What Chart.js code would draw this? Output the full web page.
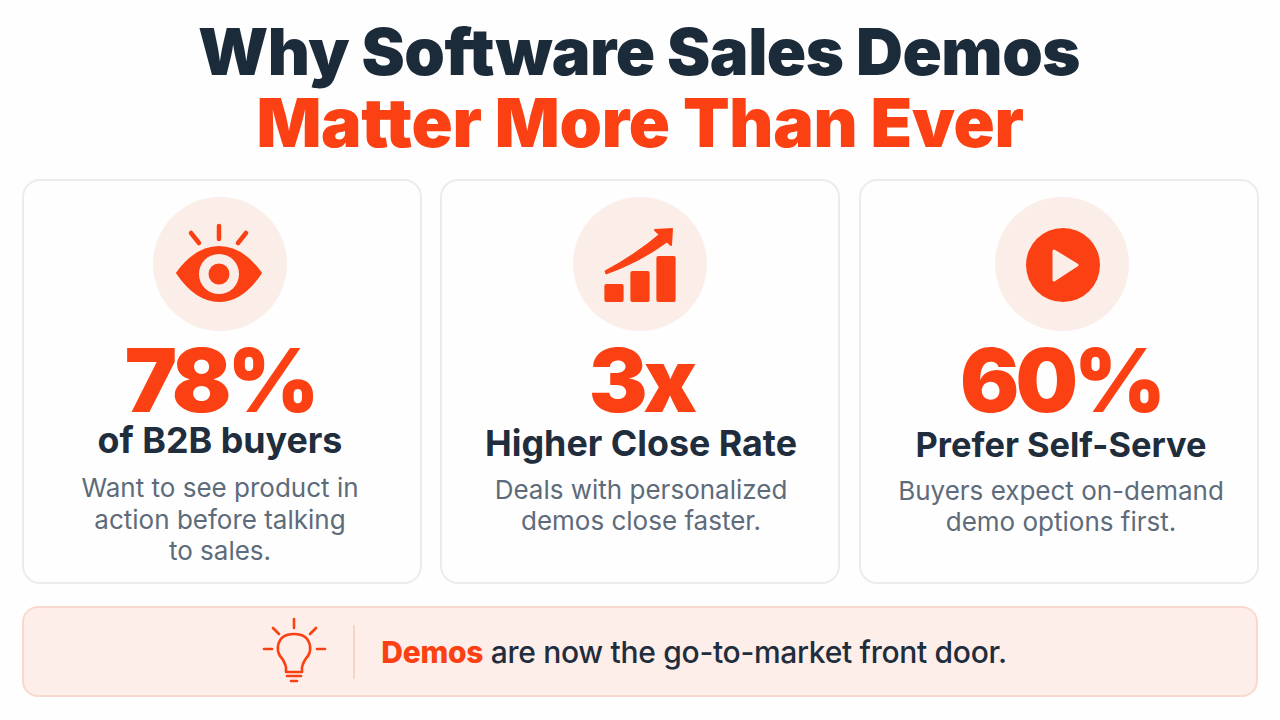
<!DOCTYPE html>
<html>
<head>
<meta charset="utf-8">
<title>Why Software Sales Demos Matter More Than Ever</title>
<script src="https://cdn.jsdelivr.net/npm/chart.js@4"></script>
<style>
    html, body { margin: 0; padding: 0; background: #fefefe; }
    #page { position: relative; width: 1280px; height: 720px; overflow: hidden; font-family: Inter, sans-serif; }
    .txt { position: absolute; white-space: nowrap; text-align: center; line-height: 1; transform: translate(-50%, -50%); }
    .title { font-size: 65px; font-weight: 900; letter-spacing: -0.5px; line-height: 0.95; }
    .title2 { font-size: 68px; font-weight: 900; letter-spacing: -0.3px; line-height: 0.95; }
    .stat { font-size: 88px; font-weight: 900; color: #fb4113; letter-spacing: -4px; line-height: 0.9; }
    .label { font-size: 35.8px; font-weight: 700; color: #1f2d3d; }
    .label.narrow { font-size: 34.4px; }
    .note { font-size: 26px; font-weight: 400; color: #5d6b7a; }
    .card { position: absolute; box-sizing: border-box; top: 179px; height: 405px; border: 2px solid #ececec; border-radius: 18px; background: #fefefe; }
    .badge { position: absolute; width: 134px; height: 134px; top: 197px; border-radius: 50%; background: #fbeee9; }
    #banner { position: absolute; box-sizing: border-box; left: 22px; top: 606px; width: 1236px; height: 91px; border: 2px solid #f9d9ce; border-radius: 16px; background: #fdeee9; }
    svg { position: absolute; left: 0; top: 0; }
    #barsWrap { position: absolute; left: 601px; top: 256px; width: 78px; height: 46px; }
</style>
</head>
<body>
<div id="page">
    <div id="barsWrap"><canvas id="barsIcon"></canvas></div>
</div>
<script>
const titleLines = ['Why Software Sales Demos', 'Matter More Than Ever'];
const statValues = ['78%', '3x', '60%'];
const statLabels = ['of B2B buyers', 'Higher Close Rate', 'Prefer Self-Serve'];
const statNotes = [
    ['Want to see product in', 'action before talking', 'to sales.'],
    ['Deals with personalized', 'demos close faster.'],
    ['Buyers expect on-demand', 'demo options first.'],
];
const bannerLead = 'Demos';
const bannerRest = ' are now the go-to-market front door.';

// icon bars
const barCategories = ['a', 'b', 'c'];
const barValues = [18, 31, 46];

const accent = '#fb4113';
const page = document.getElementById('page');

function addText(cls, text, x, y, color) {
    const el = document.createElement('div');
    el.className = 'txt ' + cls;
    el.textContent = text;
    el.style.left = x + 'px';
    el.style.top = y + 'px';
    if (color) el.style.color = color;
    page.appendChild(el);
    return el;
}

// boxes go in first so the text ends up on top
[153, 573, 995].forEach(x => {
    const el = document.createElement('div');
    el.className = 'badge';
    el.style.left = x + 'px';
    page.insertBefore(el, page.firstChild);
});
[22, 440, 859].forEach(x => {
    const el = document.createElement('div');
    el.className = 'card';
    el.style.left = x + 'px';
    el.style.width = '400px';
    page.insertBefore(el, page.firstChild);
});

addText('title', titleLines[0], 639, 52, '#1c2b3a');
addText('title2', titleLines[1], 640, 122, accent);

const centers = [220, 641, 1061];
const labelY = [441, 444, 445];
const labelClass = ['label', 'label', 'label narrow'];
const noteY = [[488, 520, 551], [490, 521], [491, 522]];
statValues.forEach((v, i) => {
    addText('stat', v, centers[i], 381);
    addText(labelClass[i], statLabels[i], centers[i], labelY[i]);
    statNotes[i].forEach((line, j) => addText('note', line, centers[i], noteY[i][j]));
});

const banner = document.createElement('div');
banner.id = 'banner';
page.insertBefore(banner, page.firstChild);
const bannerText = addText('', '', 694, 652);
bannerText.style.cssText += 'font-size:30px;font-weight:500;color:#1f2d3d;letter-spacing:-0.3px;';
bannerText.innerHTML = '<span style="color:' + accent + ';font-weight:800">' + bannerLead + '</span>' + bannerRest;

// icons that are not data
page.insertAdjacentHTML('beforeend', `
<svg width="1280" height="720" viewBox="0 0 1280 720">
  <g fill="none" stroke="${accent}" stroke-linecap="round" stroke-width="4.5">
    <path d="M191 233 L199 243"/><path d="M219 226 L219 239"/><path d="M246 233 L238 243"/>
  </g>
  <path d="M177 273 Q196 247 219 247 Q242 247 261 273 Q242 301 219 301 Q196 301 177 273 Z" fill="${accent}" stroke="${accent}" stroke-width="2" stroke-linejoin="round"/>
  <circle cx="219" cy="274" r="20" fill="#fbeee9"/>
  <circle cx="219" cy="274" r="10.5" fill="${accent}"/>

  <path d="M606 274 Q640 262 667 242 L661 233 Q635 255 605 271 Z" fill="${accent}" stroke="${accent}" stroke-width="1" stroke-linejoin="round"/>
  <path d="M655 230 L672 229 L671 245 Z" fill="${accent}" stroke="${accent}" stroke-width="2" stroke-linejoin="round"/>

  <circle cx="1063" cy="265" r="37" fill="${accent}"/>
  <path d="M1054 251 L1077 265 L1054 280 Z" fill="#fbeee9" stroke="#fbeee9" stroke-width="3" stroke-linejoin="round"/>

  <g fill="none" stroke="${accent}" stroke-width="2.6" stroke-linecap="round" stroke-linejoin="round">
    <path d="M294 619 L294 628"/><path d="M273 628 L279 634"/><path d="M316 628 L310 634"/>
    <path d="M264 649 L272 649"/><path d="M317 649 L325 649"/>
    <path d="M286 672 L286 667 Q284 660 280 656 Q277 651 278 646 Q280 634 294 634 Q308 634 310 646 Q311 651 308 656 Q304 660 302 667 L302 672 Z"/>
    <path d="M287 676 L301 676"/><path d="M291 681 L297 681"/>
  </g>
  <path d="M354 625 L354 679" stroke="#f8d3c6" stroke-width="2"/>
</svg>`);

new Chart(document.getElementById('barsIcon'), {
    type: 'bar',
    data: {
        labels: barCategories,
        datasets: [{
            data: barValues,
            backgroundColor: accent,
            borderRadius: 2,
            borderSkipped: false,
            barPercentage: 0.74,
            categoryPercentage: 1,
        }]
    },
    options: {
        responsive: true,
        maintainAspectRatio: false,
        animation: false,
        layout: { padding: 0 },
        plugins: { legend: { display: false }, tooltip: { enabled: false } },
        scales: {
            x: { display: false },
            y: { display: false, min: 0, max: 46 }
        }
    }
});
</script>
</body>
</html>
